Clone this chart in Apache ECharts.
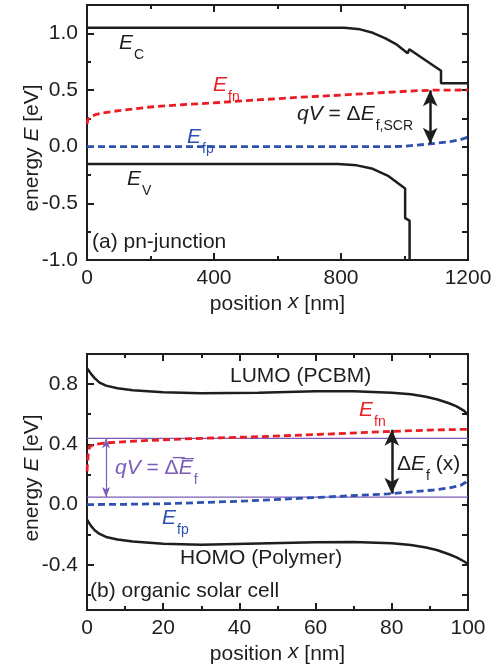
<!DOCTYPE html>
<html><head><meta charset="utf-8">
<script src="https://cdn.jsdelivr.net/npm/echarts@6/dist/echarts.min.js"></script>
<style>html,body{margin:0;padding:0;background:#fff}#c{width:501px;height:670px}</style>
</head><body><div id="c"></div>
<script>
// ---------- data: panel (a) pn-junction, x in nm, E in eV ----------
const pnEc = [[0,1.05],[810,1.05],[860,1.035],[900,1.005],[940,0.955],[976,0.9],[1010,0.825],[1015,0.86],[1115,0.67],[1115,0.56],[1200,0.56]];
const pnEv = [[0,-0.153],[790,-0.153],[850,-0.165],[900,-0.195],[950,-0.26],[1002,-0.37],[1002,-0.63],[1016,-0.653],[1016,-1.0]];
const pnEfn = [[0,0.2],[3,0.24],[10,0.262],[24,0.28],[50,0.298],[100,0.318],[200,0.35],[300,0.37],[420,0.39],[513,0.408],[650,0.433],[800,0.455],[950,0.48],[1040,0.494],[1100,0.499],[1200,0.5]];
const pnEfp = [[0,0.0],[950,0.0],[1000,0.004],[1040,0.014],[1081,0.024],[1144,0.045],[1175,0.06],[1200,0.085]];
const pnArrow = [[1081,0.497],[1081,0.026]];
const pnYMajor = [-1.0,-0.5,0.0,0.5,1.0];
const pnYMinor = [-0.75,-0.25,0.25,0.75];

// ---------- data: panel (b) organic solar cell, x in nm, E in eV ----------
const oscLumo = [[0,0.905],[1,0.87],[2,0.84],[3.3,0.81],[5,0.79],[8,0.773],[12,0.76],[20,0.746],[30,0.74],[45,0.743],[60,0.752],[70,0.752],[80,0.743],[85,0.732],[89,0.716],[92,0.698],[95,0.673],[97,0.652],[99,0.622],[100,0.595]];
const oscHomo = [[0,-0.1],[1,-0.14],[2,-0.17],[3.3,-0.195],[5,-0.215],[8,-0.232],[12,-0.245],[20,-0.26],[30,-0.266],[45,-0.258],[60,-0.25],[70,-0.248],[80,-0.256],[85,-0.268],[89,-0.285],[92,-0.303],[95,-0.33],[97,-0.35],[99,-0.378],[100,-0.395]];
const oscEfn = [[0,0.22],[0.3,0.33],[0.7,0.385],[2,0.4],[5,0.41],[15,0.425],[30,0.44],[43,0.449],[60,0.465],[78,0.484],[90,0.495],[100,0.5]];
const oscEfp = [[0,0.0],[10,0.002],[21,0.006],[42,0.024],[60,0.047],[79,0.071],[91,0.097],[95,0.11],[98,0.127],[99.5,0.15],[100,0.18]];
const oscMeanFn = [[0,0.44],[100,0.44]];
const oscMeanFp = [[0,0.05],[100,0.05]];
const oscMeanArrow = [[5,0.44],[5,0.05]];
const oscArrow = [[80,0.497],[80,0.072]];
const oscYMajor = [-0.4,0.0,0.4,0.8];
const oscYMinor = [-0.6,-0.2,0.2,0.6];

// ---------- styling ----------
const FONT = 'Liberation Sans, Arial, sans-serif';
const INK = '#1e1e1e';
const RED = '#ec1c24';
const BLUE = '#2e50b0';
const PURPLE = '#7a5cb8';
const FS = 21;

function richFor(color) {
  return {
    i: {fontFamily: FONT, fontSize: FS, fontStyle: 'italic', color, lineHeight: 24, verticalAlign: 'top'},
    n: {fontFamily: FONT, fontSize: FS, color, lineHeight: 24, verticalAlign: 'top'},
    s: {fontFamily: FONT, fontSize: 14, color, lineHeight: 14, padding: [15, 0, 0, 1], verticalAlign: 'top'}
  };
}

function xAxisCfg(grid, min, max, interval, pos, showLabel, name) {
  return {
    type: 'value', gridIndex: grid, min, max, interval, position: pos,
    axisLine: {show: false, onZero: false},
    axisTick: {show: true, inside: true, length: 7, lineStyle: {color: INK, width: 2}},
    minorTick: {show: true, splitNumber: 2, length: 4, lineStyle: {color: INK, width: 2}},
    splitLine: {show: false}, minorSplitLine: {show: false},
    axisLabel: {show: showLabel, fontFamily: FONT, fontSize: FS, color: INK, margin: 8, formatter: v => String(v)},
    name: name || '', nameLocation: 'middle', nameGap: 32,
    nameTextStyle: {fontFamily: FONT, fontSize: FS, color: INK, rich: richFor(INK)}
  };
}
function yAxisCfg(grid, min, max, ticks, len, pos, showLabel) {
  return {
    type: 'value', gridIndex: grid, min, max, position: pos,
    axisLine: {show: false, onZero: false},
    axisTick: {show: true, inside: true, length: len, customValues: ticks, lineStyle: {color: INK, width: 2}},
    splitLine: {show: false},
    axisLabel: {show: showLabel, customValues: ticks, fontFamily: FONT, fontSize: FS, color: INK, margin: 9,
      formatter: v => v.toFixed(1)}
  };
}

function curve(data, xi, yi, color, dashed, width) {
  return {
    type: 'line', xAxisIndex: xi, yAxisIndex: yi, data, showSymbol: false, symbol: 'none',
    lineStyle: {color, width: width || 2.5, type: dashed ? [7, 4] : 'solid'},
    silent: true, z: 3
  };
}
function arrowSeries(pts, xi, yi, color, width, size) {
  return {
    type: 'line', xAxisIndex: xi, yAxisIndex: yi, data: [], showSymbol: false, silent: true,
    markLine: {
      silent: true, symbol: ['arrow', 'arrow'], symbolSize: size, animation: false,
      label: {show: false},
      lineStyle: {color, width, type: 'solid'},
      emphasis: {disabled: true},
      data: [[{coord: pts[0]}, {coord: pts[1]}]]
    },
    z: 5
  };
}

function label(x, y, text, color) {
  return {type: 'text', x, y, z: 100, silent: true,
    style: {text, rich: richFor(color), fill: color, font: FS + 'px ' + FONT, align: 'left', verticalAlign: 'top'}};
}
function yName(x, y) {
  return {type: 'text', x, y, rotation: Math.PI / 2, z: 100, silent: true,
    style: {text: 'energy {i|E} [eV]', rich: {i: {fontFamily: FONT, fontSize: FS, fontStyle: 'italic', fill: INK}},
      fill: INK, font: FS + 'px ' + FONT, align: 'center', verticalAlign: 'middle'}};
}

const chart = echarts.init(document.getElementById('c'), null, {renderer: 'canvas'});
chart.setOption({
  animation: false,
  backgroundColor: '#fff',
  grid: [
    {left: 87, top: 5, width: 381, height: 255, show: true, borderColor: INK, borderWidth: 2, backgroundColor: 'transparent'},
    {left: 87, top: 354, width: 381, height: 256, show: true, borderColor: INK, borderWidth: 2, backgroundColor: 'transparent'}
  ],
  xAxis: [
    xAxisCfg(0, 0, 1200, 400, 'bottom', true, 'position {i|x} [nm]'),
    xAxisCfg(0, 0, 1200, 400, 'top', false),
    xAxisCfg(1, 0, 100, 20, 'bottom', true, 'position {i|x} [nm]'),
    xAxisCfg(1, 0, 100, 20, 'top', false)
  ],
  yAxis: [
    yAxisCfg(0, -1, 1.25, pnYMajor, 7, 'left', true),
    yAxisCfg(0, -1, 1.25, pnYMinor, 4, 'left', false),
    yAxisCfg(0, -1, 1.25, pnYMajor.concat(pnYMinor), 6, 'right', false),
    yAxisCfg(1, -0.7, 1.0, oscYMajor, 7, 'left', true),
    yAxisCfg(1, -0.7, 1.0, oscYMinor, 4, 'left', false),
    yAxisCfg(1, -0.7, 1.0, oscYMajor.concat(oscYMinor), 6, 'right', false)
  ],
  series: [
    curve(pnEc, 0, 0, INK, false, 2.5),
    curve(pnEv, 0, 0, INK, false, 2.5),
    curve(pnEfn, 0, 0, RED, true, 2.8),
    curve(pnEfp, 0, 0, BLUE, true, 2.8),
    arrowSeries(pnArrow, 0, 0, INK, 2.5, [11, 16]),
    curve(oscMeanFn, 2, 3, PURPLE, false, 1.2),
    curve(oscMeanFp, 2, 3, PURPLE, false, 1.2),
    curve(oscLumo, 2, 3, INK, false, 2.5),
    curve(oscHomo, 2, 3, INK, false, 2.5),
    curve(oscEfn, 2, 3, RED, true, 2.8),
    curve(oscEfp, 2, 3, BLUE, true, 2.8),
    arrowSeries(oscMeanArrow, 2, 3, PURPLE, 1.2, [6, 10]),
    arrowSeries(oscArrow, 2, 3, INK, 2.5, [11, 16])
  ],
  graphic: [
    yName(32, 148),
    yName(32, 478),
    label(119, 33, '{i|E}{s|C}', INK),
    label(127, 169, '{i|E}{s|V}', INK),
    label(213, 75, '{i|E}{s|fn}', RED),
    label(187, 127, '{i|E}{s|fp}', BLUE),
    label(297, 104, '{i|qV} {n|= \u0394}{i|E}{s|f,SCR}', INK),
    label(92, 232, '{n|(a) pn-junction}', INK),
    label(230, 366, '{n|LUMO (PCBM)}', INK),
    label(180, 548, '{n|HOMO (Polymer)}', INK),
    label(90, 581, '{n|(b) organic solar cell}', INK),
    label(359, 400, '{i|E}{s|fn}', RED),
    label(162, 508, '{i|E}{s|fp}', BLUE),
    label(115, 458, '{i|qV} {n|= \u0394\u0305}{i|E\u0305}{s|f}', PURPLE),
    label(397, 454, '{n|\u0394}{i|E}{s|f}{n| (x)}', INK)
  ]
});
</script></body></html>
